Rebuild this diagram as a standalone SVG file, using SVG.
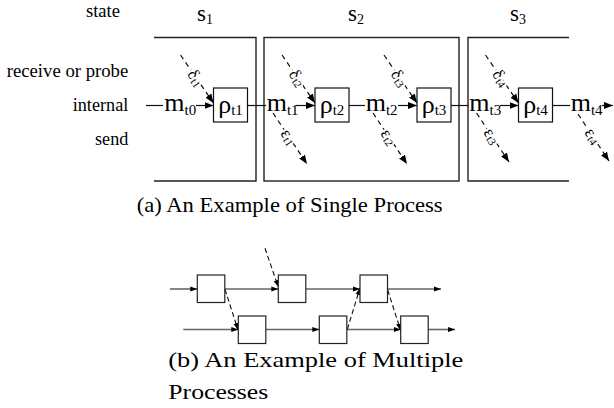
<svg xmlns="http://www.w3.org/2000/svg" width="614" height="408" viewBox="0 0 614 408">
<defs>
<style>
text{font-family:'Liberation Serif','Times New Roman',serif;fill:#000}
.lbl{font-size:18.5px;text-anchor:end}
.sym{font-size:26px}
.sub{font-size:15px}
.st{font-size:23px}
.stsub{font-size:14px}
.gr{font-size:17px;text-anchor:middle;dominant-baseline:central;paint-order:stroke;stroke:#fff;stroke-width:4px}
.grsub{font-size:11px}
.frame{fill:none;stroke:#222;stroke-width:1.4}
.box{fill:#fff;stroke:#111;stroke-width:1.2}
.ln{stroke:#111;stroke-width:1.2;fill:none}
.dash{stroke:#111;stroke-width:1.2;stroke-dasharray:5 4;fill:none}
.cap{font-size:22px}
.bln{stroke:#666;stroke-width:1.6;fill:none}
.bbox{fill:#fff;stroke:#222;stroke-width:1.2}
.bdash{stroke:#111;stroke-width:1.1;stroke-dasharray:5 3;fill:none}
</style>
<marker id="ah" markerUnits="userSpaceOnUse" markerWidth="10" markerHeight="8" refX="9" refY="4" orient="auto"><path d="M0,0.5 L9,4 L0,7.5 z" fill="#000"/></marker>
<marker id="ahb" markerUnits="userSpaceOnUse" markerWidth="8" markerHeight="6" refX="7" refY="3" orient="auto"><path d="M0,0.5 L7,3 L0,5.5 z" fill="#000"/></marker>
</defs>

<g id="row-labels">
<text class="lbl" x="120" y="17" textLength="34" lengthAdjust="spacingAndGlyphs">state</text>
<text class="lbl" x="128.3" y="77" textLength="121.6" lengthAdjust="spacingAndGlyphs">receive or probe</text>
<text class="lbl" x="128.3" y="111" textLength="55.6" lengthAdjust="spacingAndGlyphs">internal</text>
<text class="lbl" x="128.3" y="145" textLength="33.3" lengthAdjust="spacingAndGlyphs">send</text>
</g>

<g id="state-labels">
<text class="st" x="197" y="20.5">s<tspan class="stsub" dy="3">1</tspan></text>
<text class="st" x="348" y="20.5">s<tspan class="stsub" dy="3">2</tspan></text>
<text class="st" x="510" y="20.5">s<tspan class="stsub" dy="3">3</tspan></text>
</g>

<g id="frames">
<path class="frame" d="M154,37.5 H256 V181 H154"/>
<rect class="frame" x="264" y="37.5" width="195" height="143.5"/>
<path class="frame" d="M569,37.5 H468 V181 H569"/>
</g>

<g id="connectors-a">
<line class="ln" x1="146" y1="105.5" x2="163" y2="105.5"/>
<line class="ln" x1="196" y1="105.5" x2="213.5" y2="105.5" marker-end="url(#ah)"/>
<line class="ln" x1="247.5" y1="105.5" x2="266" y2="105.5"/>
<line class="ln" x1="296" y1="105.5" x2="315" y2="105.5" marker-end="url(#ah)"/>
<line class="ln" x1="349" y1="105.5" x2="365" y2="105.5"/>
<line class="ln" x1="398" y1="105.5" x2="417" y2="105.5" marker-end="url(#ah)"/>
<line class="ln" x1="451" y1="105.5" x2="468.5" y2="105.5"/>
<line class="ln" x1="500" y1="105.5" x2="518.5" y2="105.5" marker-end="url(#ah)"/>
<line class="ln" x1="552.5" y1="105.5" x2="570" y2="105.5"/>
<line class="ln" x1="602" y1="105.5" x2="613" y2="105.5" marker-end="url(#ah)"/>

<line class="dash" x1="180.5" y1="55" x2="213.5" y2="103" marker-end="url(#ah)"/>
<line class="dash" x1="282" y1="55" x2="315" y2="103" marker-end="url(#ah)"/>
<line class="dash" x1="384" y1="55" x2="417" y2="103" marker-end="url(#ah)"/>
<line class="dash" x1="485.5" y1="55" x2="518.5" y2="103" marker-end="url(#ah)"/>

<line class="dash" x1="273" y1="113" x2="307" y2="164" marker-end="url(#ah)"/>
<line class="dash" x1="373" y1="113" x2="407" y2="164" marker-end="url(#ah)"/>
<line class="dash" x1="476.5" y1="113" x2="509" y2="162" marker-end="url(#ah)"/>
<line class="dash" x1="578" y1="114" x2="609" y2="161" marker-end="url(#ah)"/>
</g>

<g id="delta-labels">
<text class="gr" transform="translate(196,78) rotate(55.5)">δ<tspan class="grsub" dy="3">t1</tspan></text>
<text class="gr" transform="translate(297.5,78) rotate(55.5)">δ<tspan class="grsub" dy="3">t2</tspan></text>
<text class="gr" transform="translate(399.5,78) rotate(55.5)">δ<tspan class="grsub" dy="3">t3</tspan></text>
<text class="gr" transform="translate(501,78) rotate(55.5)">δ<tspan class="grsub" dy="3">t4</tspan></text>
</g>

<g id="eps-labels">
<text class="gr" transform="translate(289,137) rotate(56)">ε<tspan class="grsub" dy="3">t1</tspan></text>
<text class="gr" transform="translate(389,137) rotate(56)">ε<tspan class="grsub" dy="3">t2</tspan></text>
<text class="gr" transform="translate(492,136) rotate(56)">ε<tspan class="grsub" dy="3">t3</tspan></text>
<text class="gr" transform="translate(593,136) rotate(56)">ε<tspan class="grsub" dy="3">t4</tspan></text>
</g>

<g id="m-labels">
<text class="sym" x="164.3" y="111">m<tspan class="sub" dy="4">t0</tspan></text>
<text class="sym" x="266.7" y="111">m<tspan class="sub" dy="4">t1</tspan></text>
<text class="sym" x="365.7" y="111">m<tspan class="sub" dy="4">t2</tspan></text>
<text class="sym" x="469.3" y="111">m<tspan class="sub" dy="4">t3</tspan></text>
<text class="sym" x="570.7" y="111">m<tspan class="sub" dy="4">t4</tspan></text>
</g>

<g id="rho-t1"><rect class="box" x="213.5" y="88" width="34" height="34"/><text class="sym" x="230.5" y="113" text-anchor="middle">ρ<tspan class="sub" dy="2">t1</tspan></text></g>
<g id="rho-t2"><rect class="box" x="315" y="88" width="34" height="34"/><text class="sym" x="332" y="113" text-anchor="middle">ρ<tspan class="sub" dy="2">t2</tspan></text></g>
<g id="rho-t3"><rect class="box" x="417" y="88" width="34" height="34"/><text class="sym" x="434" y="113" text-anchor="middle">ρ<tspan class="sub" dy="2">t3</tspan></text></g>
<g id="rho-t4"><rect class="box" x="518.5" y="88" width="34" height="34"/><text class="sym" x="535.5" y="113" text-anchor="middle">ρ<tspan class="sub" dy="2">t4</tspan></text></g>

<text class="cap" x="136.7" y="211.7" textLength="306" lengthAdjust="spacingAndGlyphs">(a) An Example of Single Process</text>

<g id="connectors-b">
<line class="bln" x1="170" y1="289" x2="197.3" y2="289" marker-end="url(#ahb)"/>
<line class="bln" x1="225" y1="289" x2="278.3" y2="289" marker-end="url(#ahb)"/>
<line class="bln" x1="306" y1="289" x2="360" y2="289" marker-end="url(#ahb)"/>
<line class="bln" x1="387.7" y1="289" x2="441" y2="289" marker-end="url(#ahb)"/>
<line class="bln" x1="183.3" y1="329.5" x2="238.3" y2="329.5" marker-end="url(#ahb)"/>
<line class="bln" x1="265.7" y1="329.5" x2="319.3" y2="329.5" marker-end="url(#ahb)"/>
<line class="bln" x1="346.7" y1="329.5" x2="400.7" y2="329.5" marker-end="url(#ahb)"/>
<line class="bln" x1="428.3" y1="329.5" x2="455" y2="329.5" marker-end="url(#ahb)"/>
<line class="bdash" x1="265" y1="248.3" x2="278.3" y2="287" marker-end="url(#ahb)"/>
<line class="bdash" x1="225" y1="289.3" x2="238" y2="330" marker-end="url(#ahb)"/>
<line class="bdash" x1="347.3" y1="329.3" x2="360" y2="288" marker-end="url(#ahb)"/>
<line class="bdash" x1="387.7" y1="290" x2="400.7" y2="330.5" marker-end="url(#ahb)"/>
</g>

<g id="b-top-1"><rect class="bbox" x="197.3" y="275" width="27.5" height="27.5"/></g>
<g id="b-top-2"><rect class="bbox" x="278.3" y="275" width="27.5" height="27.5"/></g>
<g id="b-top-3"><rect class="bbox" x="360" y="275" width="27.5" height="27.5"/></g>
<g id="b-bot-1"><rect class="bbox" x="238.3" y="316" width="27.5" height="27.5"/></g>
<g id="b-bot-2"><rect class="bbox" x="319.3" y="316" width="27.5" height="27.5"/></g>
<g id="b-bot-3"><rect class="bbox" x="400.7" y="316" width="27.5" height="27.5"/></g>

<text class="cap" x="168.3" y="366.5" textLength="295" lengthAdjust="spacingAndGlyphs">(b) An Example of Multiple</text>
<text class="cap" x="168.3" y="399" textLength="100" lengthAdjust="spacingAndGlyphs">Processes</text>
</svg>
